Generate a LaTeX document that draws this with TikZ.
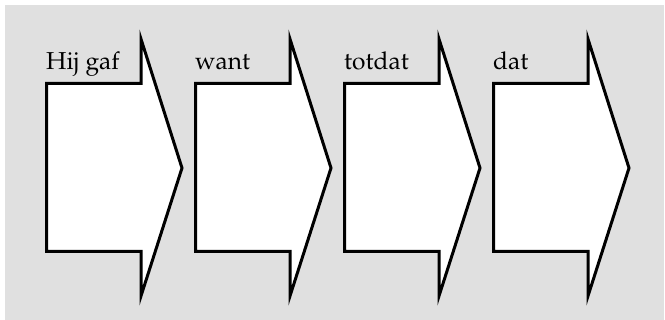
\documentclass[tikz,border=0pt]{standalone}
\usepackage[T1]{fontenc}
\usepackage{mathpazo}
\usepackage{tikz}
\definecolor{panelgray}{RGB}{224,224,224}

\begin{document}
\begin{tikzpicture}[
        x=1pt, y=-1pt,
        step_arrow/.style={draw=black, fill=white, line width=3pt, line join=miter, miter limit=20},
        word_text/.style={anchor=base west, inner sep=0pt, font=\fontsize{24.5}{29}\selectfont}
    ]
        \useasboundingbox (0,0) rectangle (665,320);
        % Background panel
        \fill[panelgray] (5,5) rectangle (664,320);

        % Arrows with their words
        \foreach \i/\word in {0/Hij gaf, 1/want, 2/totdat, 3/dat} {
            \pgfmathsetmacro{\xo}{46.5+149*\i}
            \draw[step_arrow] (\xo,83.5) -- (\xo+94.5,83.5) -- (\xo+94.5,39)
                -- (\xo+135.5,168) -- (\xo+94.5,296) -- (\xo+94.5,251.5)
                -- (\xo,251.5) -- cycle;
            \node (word\i) at (\xo-0.5,69.5) [word_text] {\word};
        }

    \end{tikzpicture}
\end{document}
